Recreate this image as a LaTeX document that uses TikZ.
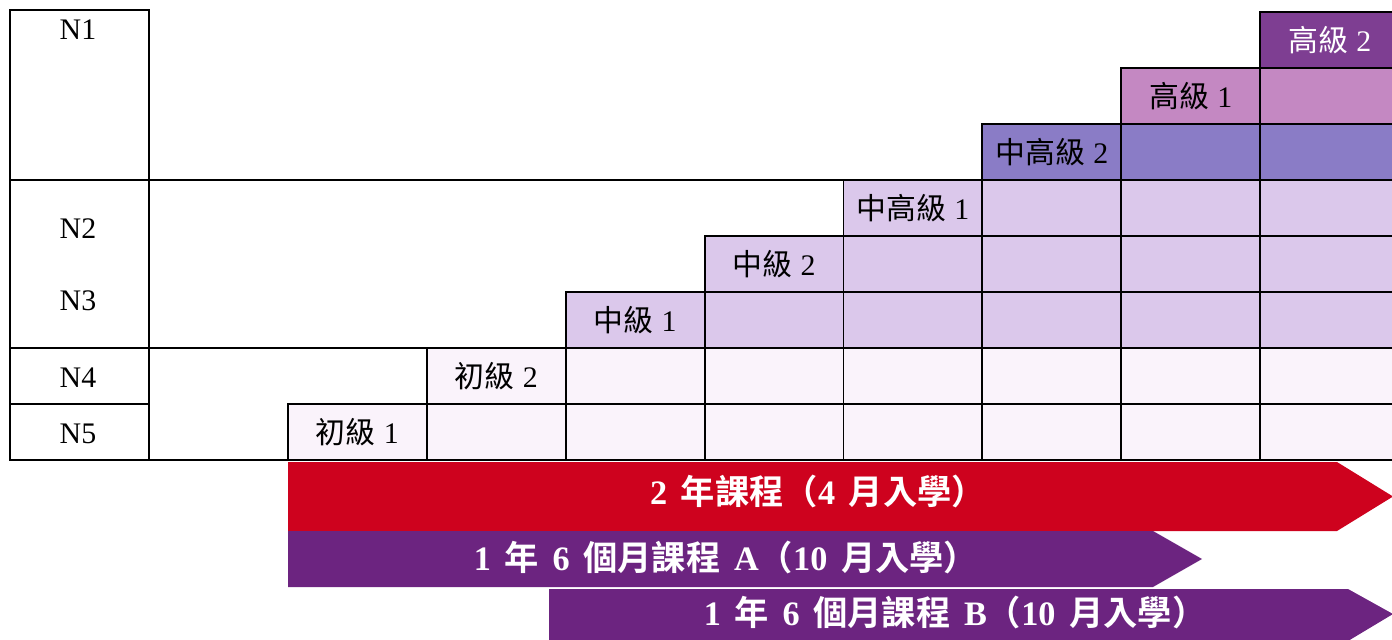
\documentclass[tikz,border=0pt]{standalone}
\usepackage{fontspec}
\setmainfont{Liberation Serif}
\newfontfamily\cjk{Noto Sans CJK TC}[BoldFont={Noto Sans CJK TC Bold}]
\usetikzlibrary{positioning}
\newcommand{\zh}[1]{{\cjk #1}}
\newcommand{\gap}{\hspace{0.4em}}
\newcommand{\sgap}{\hspace{0.28em}}
% row colours, top row first
\definecolor{row0}{RGB}{126,62,146}
\definecolor{row1}{RGB}{196,136,194}
\definecolor{row2}{RGB}{138,124,198}
\definecolor{row3}{RGB}{219,200,235}
\definecolor{row4}{RGB}{219,200,235}
\definecolor{row5}{RGB}{219,200,235}
\definecolor{row6}{RGB}{250,243,251}
\definecolor{row7}{RGB}{250,243,251}
\definecolor{twoyear}{RGB}{206,2,30}
\definecolor{halfyear}{RGB}{108,36,128}
\tikzset{
  cell/.style={rectangle, draw=black, line width=1.1pt, minimum width=2.778cm, minimum height=1.12cm, inner sep=0pt, outer sep=0pt},
  lvl/.style={font=\fontsize{17}{20}\selectfont, text=black},
  nlab/.style={font=\fontsize{17}{20}\selectfont},
  course/.style={font=\bfseries\fontsize{19.5}{22}\selectfont, text=white},
  grid line/.style={line width=1.1pt, draw=black}
}

\begin{document}
\begin{tikzpicture}[x=0.02cm, y=-0.02cm]
  \useasboundingbox (0,0) rectangle (1392,639);
  \clip (0,0) rectangle (1392,639);

  % level column
  \draw[grid line] (10,10) rectangle (149,460);
  \draw[grid line] (10,180) -- (843,180);
  \draw[grid line] (10,348) -- (427,348);
  \draw[grid line] (10,404) -- (149,404);
  \draw[grid line] (149,460) -- (288,460);
  \node[nlab] (n1) at (78,30) {N1};
  \node[nlab] (n2) at (78,229) {N2};
  \node[nlab] (n3) at (78,301) {N3};
  \node[nlab] (n4) at (78,378) {N4};
  \node[nlab] (n5) at (78,434) {N5};

  % staircase of cells
  \foreach \c in {1,...,8} {
    \pgfmathtruncatemacro{\rtop}{8-\c}
    \foreach \r in {\rtop,...,7} {
      \node[cell, fill=row\r] (cell-\c-\r) at ({149+138.9*\c+69.45},{12+56*\r+28}) {};
    }
  }

  \node[lvl] (lv1) at (cell-1-7) {\zh{初級}\sgap 1};
  \node[lvl] (lv2) at (cell-2-6) {\zh{初級}\sgap 2};
  \node[lvl] (lv3) at (cell-3-5) {\zh{中級}\sgap 1};
  \node[lvl] (lv4) at (cell-4-4) {\zh{中級}\sgap 2};
  \node[lvl] (lv5) at (cell-5-3) {\zh{中高級}\sgap 1};
  \node[lvl] (lv6) at (cell-6-2) {\zh{中高級}\sgap 2};
  \node[lvl] (lv7) at (cell-7-1) {\zh{高級}\sgap 1};
  \node[lvl, text=white] (lv8) at (cell-8-0) {\zh{高級}\sgap 2};

  % courses
  \fill[twoyear] (288,462) -- (1337,462) -- (1393,496.5) -- (1337,531) -- (288,531) -- cycle;
  \node[course] (c2y) at (818,491) {2\gap\zh{年課程（}4\gap\zh{月入學）}};
  \fill[halfyear] (288,531) -- (1153,531) -- (1202,559) -- (1153,587) -- (288,587) -- cycle;
  \node[course] (c18a) at (726,557) {1\gap\zh{年}\gap 6\gap\zh{個月課程}\gap A\zh{（}10\gap\zh{月入學）}};
  \fill[halfyear] (549,589) -- (1348,589) -- (1393,614) -- (1348,641) -- (549,641) -- cycle;
  \node[course] (c18b) at (955,612) {1\gap\zh{年}\gap 6\gap\zh{個月課程}\gap B\zh{（}10\gap\zh{月入學）}};
\end{tikzpicture}
\end{document}
